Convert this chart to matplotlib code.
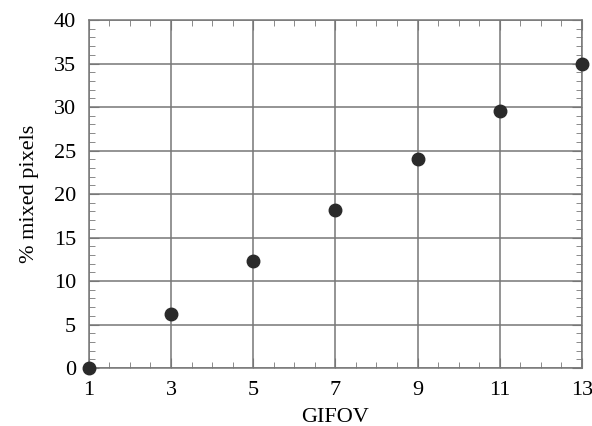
import matplotlib.pyplot as plt
import numpy as np

plt.rcParams['font.family'] = ['Liberation Serif', 'DejaVu Serif']

# data
gifov = np.array([1, 3, 5, 7, 9, 11, 13])
mixed = np.array([0.0, 6.2, 12.3, 18.2, 24.0, 29.6, 35.0])

fig = plt.figure(figsize=(5.92, 4.26), dpi=100)
ax = fig.add_axes([0.150, 0.136, 0.833, 0.817])

ax.plot(gifov, mixed, 'o', color='#2a2a2a', ms=9, clip_on=False, zorder=5)

ax.set_xlim(1, 13)
ax.set_ylim(0, 40)
ax.set_xticks(np.arange(1, 14, 2))
ax.set_xticks(np.arange(1, 13.01, 0.5), minor=True)
ax.set_yticks(np.arange(0, 41, 5))
ax.set_yticks(np.arange(0, 41, 1), minor=True)

ax.grid(True, which='major', color='#777777', lw=1.1)
ax.set_axisbelow(True)
for s in ax.spines.values():
    s.set_color('#777777')
    s.set_linewidth(1.1)

ax.tick_params(which='both', direction='in', top=True, right=True,
               color='#777777', labelsize=16)
ax.tick_params(which='major', length=7)
ax.tick_params(which='minor', length=4)
ax.tick_params(axis='x', which='major', pad=9)
ax.tick_params(axis='y', which='major', pad=9)

ax.set_xlabel('GIFOV', fontsize=16, labelpad=6)
ax.set_ylabel('% mixed pixels', fontsize=16, labelpad=11)

fig.savefig('out.png')
